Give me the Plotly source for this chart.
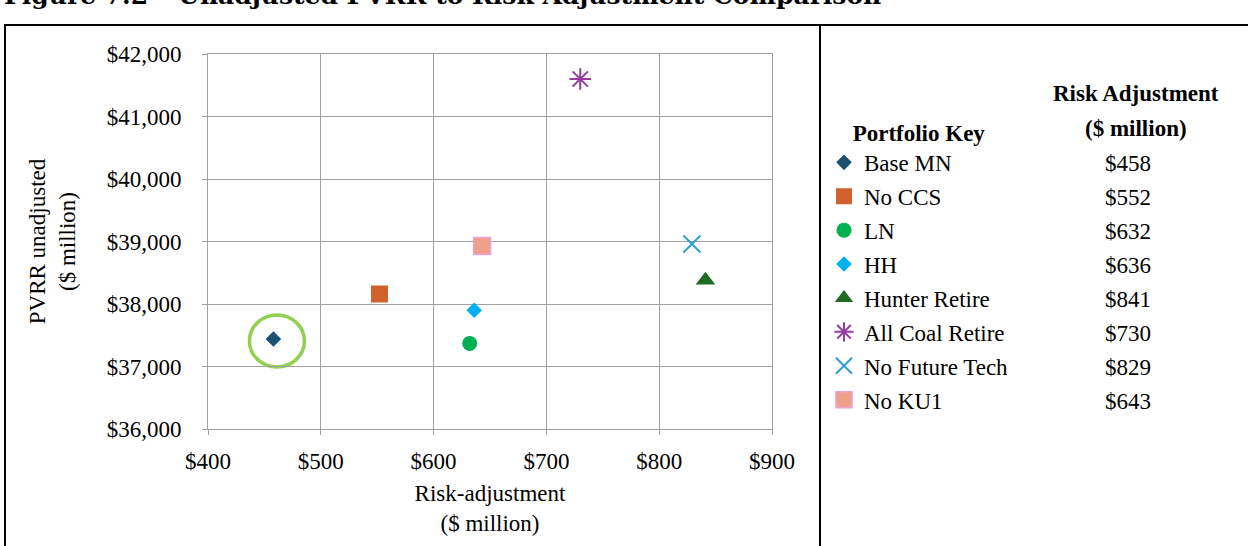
import plotly.graph_objects as go

# Portfolio results: risk adjustment vs. unadjusted PVRR ($ million)
portfolios = ["Base MN", "No CCS", "LN", "HH", "Hunter Retire",
              "All Coal Retire", "No Future Tech", "No KU1"]
risk_adjustment = [458, 552, 632, 636, 841, 730, 829, 643]
pvrr_unadjusted = [37440, 38160, 37370, 37900, 38380, 41600, 38960, 38930]

x_ticks = [400, 500, 600, 700, 800, 900]
x_tick_text = ["$400", "$500", "$600", "$700", "$800", "$900"]
y_ticks = [36000, 37000, 38000, 39000, 40000, 41000, 42000]
y_tick_text = ["$36,000", "$37,000", "$38,000", "$39,000", "$40,000", "$41,000", "$42,000"]

symbols = ["diamond", "square", "circle", "diamond", "triangle-up",
           "asterisk-open", "x-thin-open", "square"]
colors = ["#1B5071", "#D0612A", "#00B050", "#00B0F0", "#1E6B22",
          "#973A9E", "#2DA0D2", "#EFA088"]
sizes = [12, 17, 15, 12, 17, 18, 17, 17]
line_colors = ["#1B5071", "#D0612A", "#00B050", "#00B0F0", "#1E6B22",
               "#973A9E", "#2DA0D2", "#E7A3DA"]
line_widths = [0, 0, 0, 0, 0, 2, 2, 1.5]

FONT = "Liberation Serif, Times New Roman, serif"
CAPTION_FONT = "DejaVu Serif, serif"
W, H = 1248, 546
L, R, T, B = 208, 772, 54, 429  # plot area in pixels


def px_x(px):
    return (px - L) / (R - L)


def px_y(py):
    return (B - py) / (B - T)


fig = go.Figure()
for i, name in enumerate(portfolios):
    fig.add_trace(go.Scatter(
        x=[risk_adjustment[i]], y=[pvrr_unadjusted[i]],
        mode="markers", name=name, legendgroup=name,
        marker=dict(symbol=symbols[i], color=colors[i], size=sizes[i],
                    line=dict(color=line_colors[i], width=line_widths[i])),
    ))

# highlight ring around the base portfolio
fig.add_shape(type="circle", xref="x", yref="y",
              xsizemode="pixel", ysizemode="pixel",
              xanchor=risk_adjustment[0], yanchor=pvrr_unadjusted[0],
              x0=-24, x1=31, y0=-28, y1=24,
              line=dict(color="#92D050", width=3.5), layer="below")

# frame lines of the figure panel
for x0, y0, x1, y1 in [(4, 25, W, 25), (5, 25, 5, H + 5), (820, 25, 820, H + 5)]:
    fig.add_shape(type="line", xref="paper", yref="paper",
                  x0=px_x(x0), y0=px_y(y0), x1=px_x(x1), y1=px_y(y1),
                  line=dict(color="black", width=2))

annotations = []
# figure caption, partly above the page edge
annotations.append(dict(
    text="<b>Figure 7.2 – Unadjusted PVRR to Risk Adjustment Comparison</b>",
    xref="paper", yref="paper", x=px_x(2), y=px_y(12), xanchor="left", yanchor="bottom",
    showarrow=False, font=dict(family=CAPTION_FONT, size=25, color="black")))

# value column header
annotations.append(dict(
    text="<b>Risk Adjustment</b>", xref="paper", yref="paper",
    x=px_x(1136), y=px_y(93), xanchor="center", yanchor="middle",
    showarrow=False, font=dict(family=FONT, size=23, color="black")))
annotations.append(dict(
    text="<b>($ million)</b>", xref="paper", yref="paper",
    x=px_x(1136), y=px_y(128), xanchor="center", yanchor="middle",
    showarrow=False, font=dict(family=FONT, size=23, color="black")))

# value column entries
for i, v in enumerate(risk_adjustment):
    annotations.append(dict(
        text=f"${v}", xref="paper", yref="paper",
        x=px_x(1128), y=px_y(163 + 34 * i), xanchor="center", yanchor="middle",
        showarrow=False, font=dict(family=FONT, size=23, color="black")))

fig.update_layout(
    width=W, height=H,
    margin=dict(l=L, r=W - R, t=T, b=H - B, pad=0),
    paper_bgcolor="white", plot_bgcolor="white",
    font=dict(family=FONT, size=23, color="black"),
    showlegend=True,
    legend=dict(
        x=px_x(824), y=px_y(111), xanchor="left", yanchor="top",
        bgcolor="rgba(0,0,0,0)", borderwidth=0,
        font=dict(family=FONT, size=23, color="black"),
        title=dict(text="<b>Portfolio Key</b>", side="top center",
                   font=dict(family=FONT, size=23, color="black")),
        tracegroupgap=1, itemclick=False,
    ),
    xaxis=dict(
        range=[400, 900], tickvals=x_ticks, ticktext=x_tick_text,
        showgrid=True, gridcolor="#A0A0A0", gridwidth=1,
        showline=True, linecolor="#A0A0A0", linewidth=1, mirror=True,
        ticks="outside", ticklen=5, tickcolor="#A0A0A0",
        tickfont=dict(family=FONT, size=23), ticklabelstandoff=6,
        zeroline=False,
        title=dict(text="Risk-adjustment<br>($ million)", standoff=12,
                   font=dict(family=FONT, size=23)),
    ),
    yaxis=dict(
        range=[36000, 42000], tickvals=y_ticks, ticktext=y_tick_text,
        showgrid=True, gridcolor="#A0A0A0", gridwidth=1,
        showline=True, linecolor="#A0A0A0", linewidth=1, mirror=True,
        ticks="outside", ticklen=5, tickcolor="#A0A0A0",
        tickfont=dict(family=FONT, size=23), ticklabelstandoff=16,
        zeroline=False,
        title=dict(text="PVRR unadjusted<br>($ million)", standoff=24,
                   font=dict(family=FONT, size=23)),
    ),
    annotations=annotations,
)

fig.write_html("out.html")
